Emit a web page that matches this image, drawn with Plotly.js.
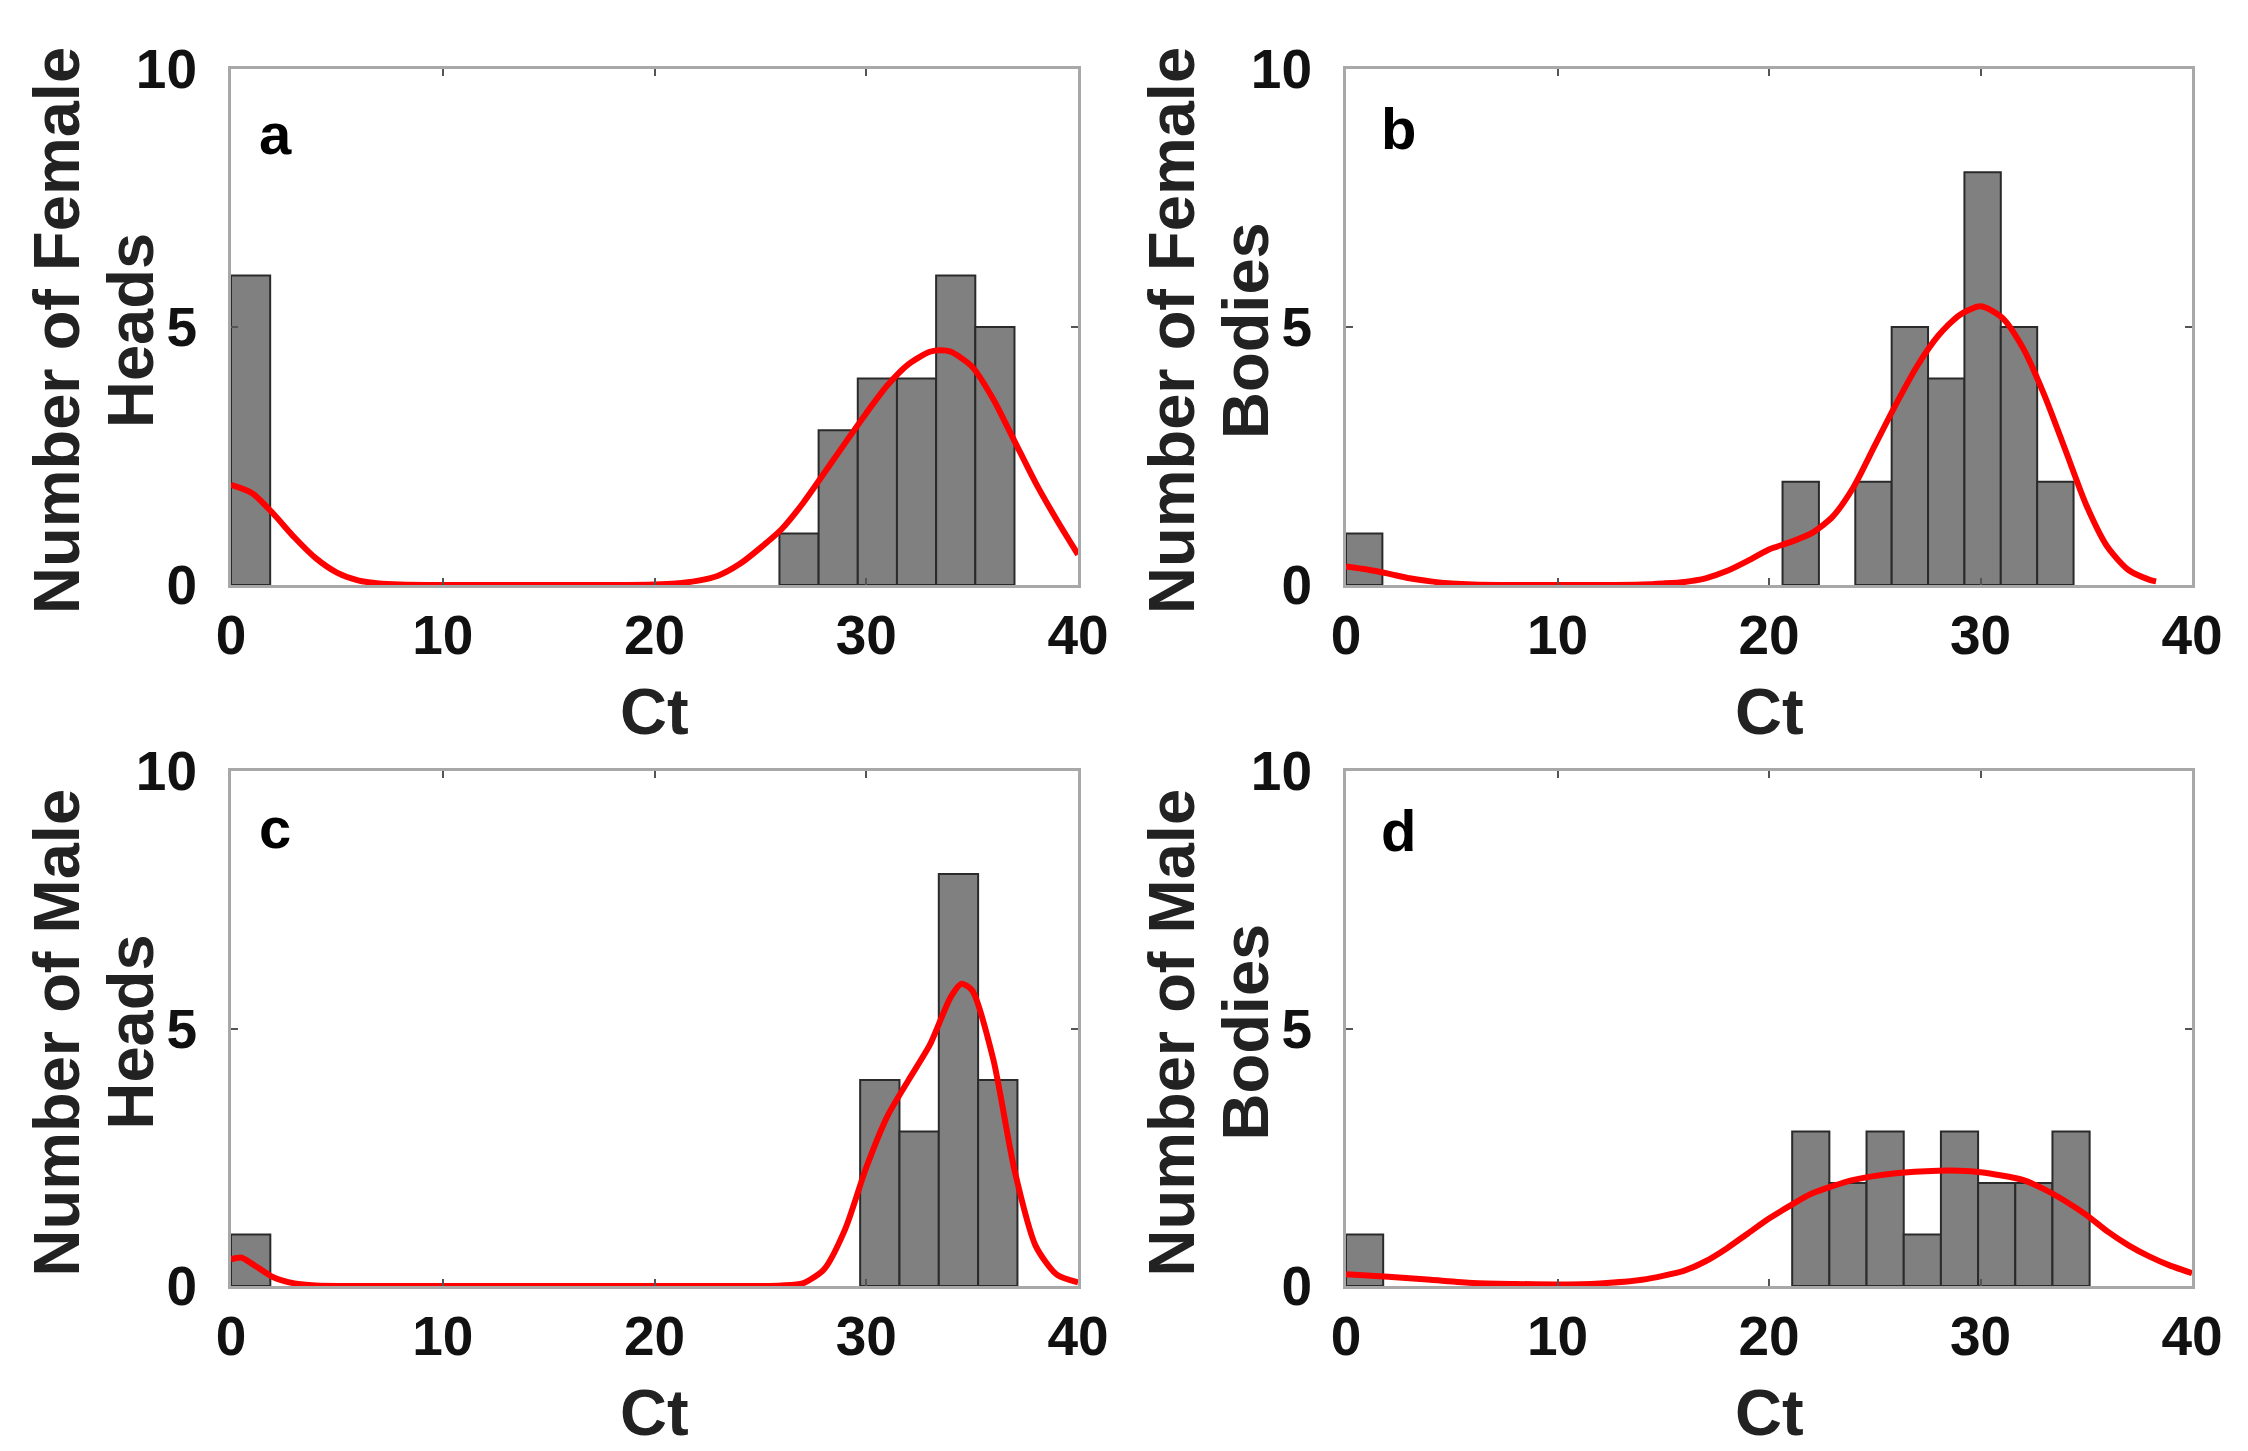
<!DOCTYPE html>
<html>
<head>
<meta charset="utf-8">
<script src="https://cdn.plot.ly/plotly-3.0.1.min.js"></script>
<style>html,body{margin:0;padding:0;background:#fff;}#chart{width:2248px;height:1451px;}</style>
</head>
<body>
<div id="chart"></div>
<script>
// ---- Data ----
const xTicks = [0, 10, 20, 30, 40];
const yTicks = [0, 5, 10];
const panelLetters = ['a', 'b', 'c', 'd'];
const xTitle = 'Ct';
// y-axis titles, two lines each
const yTitleLine1 = ['Number of Female', 'Number of Female', 'Number of Male', 'Number of Male'];
const yTitleLine2 = ['Heads', 'Bodies', 'Heads', 'Bodies'];

// histogram bin widths (Ct units) and counts per bin (20 bins starting at Ct = 0)
const binWidthA = 1.85;
const countsA = [6,0,0,0,0,0,0,0,0,0,0,0,0,0,1,3,4,4,6,5];
const binWidthB = 1.72;
const countsB = [1,0,0,0,0,0,0,0,0,0,0,0,2,0,2,5,4,8,5,2];
const binWidthC = 1.857;
const countsC = [1,0,0,0,0,0,0,0,0,0,0,0,0,0,0,0,4,3,8,4];
const binWidthD = 1.758;
const countsD = [1,0,0,0,0,0,0,0,0,0,0,0,3,2,3,1,3,2,2,3];

// kernel density fits (red curves)
const fitXA = [0,1,2,3,4,5,6,7,8,10,12,14,16,18,20,21,22,23,24,25,26,27,28,29,30,31,32,33,33.5,34,35,36,37,38,39,40];
const fitYA = [1.94,1.78,1.38,0.92,0.52,0.24,0.09,0.03,0.01,0,0,0,0,0,0.01,0.03,0.08,0.18,0.4,0.72,1.08,1.58,2.16,2.75,3.33,3.87,4.28,4.52,4.55,4.52,4.23,3.6,2.79,1.98,1.26,0.59];
const fitXB = [0,1,2,3,4,5,6,8,10,12,14,15,16,17,18,19,20,21,22,23,24,25,26,27,28,29,30,31,32,33,34,35,36,37,38,38.3];
const fitYB = [0.36,0.3,0.22,0.13,0.07,0.03,0.01,0,0,0,0.01,0.03,0.06,0.13,0.27,0.47,0.69,0.83,1.0,1.32,1.9,2.7,3.5,4.24,4.83,5.23,5.4,5.19,4.6,3.7,2.63,1.55,0.74,0.29,0.1,0.07];
const fitXC = [0,0.5,1,2,3,4,6,10,15,20,25,26,27,28,29,30,31,32,33,34,34.5,35,36,37,38,39,40];
const fitYC = [0.52,0.55,0.43,0.17,0.05,0.01,0,0,0,0,0,0.01,0.05,0.32,1.1,2.3,3.3,4.0,4.68,5.62,5.87,5.74,4.4,2.25,0.78,0.22,0.07];
const fitXD = [0,2,4,6,8,10,12,14,16,17,18,19,20,21,22,24,26,28,29,30,32,33,34,35,36,37,38,39,40];
const fitYD = [0.23,0.18,0.12,0.06,0.04,0.03,0.05,0.12,0.3,0.48,0.73,1.02,1.31,1.56,1.79,2.06,2.19,2.24,2.24,2.21,2.06,1.88,1.65,1.38,1.06,0.79,0.57,0.39,0.25];

// ---- Build figure ----
const FONT = 'Liberation Sans, Arial, Helvetica, sans-serif';
const panels = [
  {w: binWidthA, c: countsA, fx: fitXA, fy: fitYA, xa: 'x',  ya: 'y'},
  {w: binWidthB, c: countsB, fx: fitXB, fy: fitYB, xa: 'x2', ya: 'y2'},
  {w: binWidthC, c: countsC, fx: fitXC, fy: fitYC, xa: 'x3', ya: 'y3'},
  {w: binWidthD, c: countsD, fx: fitXD, fy: fitYD, xa: 'x4', ya: 'y4'}
];

const traces = [];
panels.forEach(p => {
  const bx = [], by = [];
  p.c.forEach((v, i) => { if (v > 0) { bx.push((i + 0.5) * p.w); by.push(v); } });
  traces.push({
    type: 'bar', x: bx, y: by, width: p.w, xaxis: p.xa, yaxis: p.ya,
    marker: {color: '#808080', line: {color: '#2a2a2a', width: 2}},
    showlegend: false, hoverinfo: 'x+y'
  });
  traces.push({
    type: 'scatter', mode: 'lines', x: p.fx, y: p.fy, xaxis: p.xa, yaxis: p.ya,
    line: {color: '#ff0000', width: 6, shape: 'spline', smoothing: 0.7},
    showlegend: false
  });
});

const W = 2248, H = 1451;
const colDom = [[231 / W, 1078 / W], [1346 / W, 2192 / W]];
const rowDom = [[1 - 585 / H, 1 - 69 / H], [1 - 1286 / H, 1 - 771 / H]];

function xAxis(dom, anchor) {
  return {
    domain: dom, anchor: anchor, range: [0, 40], tickvals: xTicks,
    showline: true, linecolor: '#a8a8a8', linewidth: 3, mirror: 'allticks',
    ticks: 'inside', ticklen: 7, tickwidth: 2, tickcolor: '#555555',
    showgrid: false, zeroline: false, ticklabelstandoff: 0,
    tickfont: {family: FONT, size: 55, color: '#111111', weight: 700}
  };
}
function yAxis(dom, anchor) {
  return {
    domain: dom, anchor: anchor, range: [0, 10], tickvals: yTicks,
    showline: true, linecolor: '#a8a8a8', linewidth: 3, mirror: 'allticks',
    ticks: 'inside', ticklen: 7, tickwidth: 2, tickcolor: '#555555',
    showgrid: false, zeroline: false, ticklabelstandoff: 20,
    tickfont: {family: FONT, size: 55, color: '#111111', weight: 700}
  };
}

const layout = {
  width: W, height: H,
  margin: {l: 0, r: 0, t: 0, b: 0},
  paper_bgcolor: '#ffffff', plot_bgcolor: '#ffffff',
  bargap: 0,
  xaxis: xAxis(colDom[0], 'y'),   yaxis: yAxis(rowDom[0], 'x'),
  xaxis2: xAxis(colDom[1], 'y2'), yaxis2: yAxis(rowDom[0], 'x2'),
  xaxis3: xAxis(colDom[0], 'y3'), yaxis3: yAxis(rowDom[1], 'x3'),
  xaxis4: xAxis(colDom[1], 'y4'), yaxis4: yAxis(rowDom[1], 'x4'),
  annotations: []
};

const letterX = [2.1, 2.5, 2.1, 2.5];
const letterY = [8.75, 8.85, 8.9, 8.85];
const axisIds = [['x', 'y'], ['x2', 'y2'], ['x3', 'y3'], ['x4', 'y4']];
const titleFont = {family: FONT, size: 65, color: '#222222', weight: 700};
axisIds.forEach((ids, i) => {
  layout.annotations.push({
    xref: ids[0], yref: ids[1], x: letterX[i], y: letterY[i],
    text: panelLetters[i], showarrow: false, xanchor: 'center', yanchor: 'middle',
    font: {family: FONT, size: 58, color: '#000000', weight: 700}
  });
  const col = i % 2, row = Math.floor(i / 2);
  const dx = colDom[col], dy = rowDom[row];
  const yMid = (dy[0] + dy[1]) / 2 - 4 / H;
  // y-axis title, line 1 and line 2
  layout.annotations.push({
    xref: 'paper', yref: 'paper', x: dx[0] - 175 / W, y: yMid,
    text: yTitleLine1[i], showarrow: false, textangle: -90,
    xanchor: 'center', yanchor: 'middle', font: titleFont
  });
  layout.annotations.push({
    xref: 'paper', yref: 'paper', x: dx[0] - 101 / W, y: yMid,
    text: yTitleLine2[i], showarrow: false, textangle: -90,
    xanchor: 'center', yanchor: 'middle', font: titleFont
  });
  // x-axis title
  layout.annotations.push({
    xref: 'paper', yref: 'paper',
    x: (dx[0] + dx[1]) / 2, y: dy[0] - 126 / H,
    text: xTitle, showarrow: false, xanchor: 'center', yanchor: 'middle',
    font: titleFont
  });
});

Plotly.newPlot('chart', traces, layout, {staticPlot: true});
</script>
</body>
</html>
